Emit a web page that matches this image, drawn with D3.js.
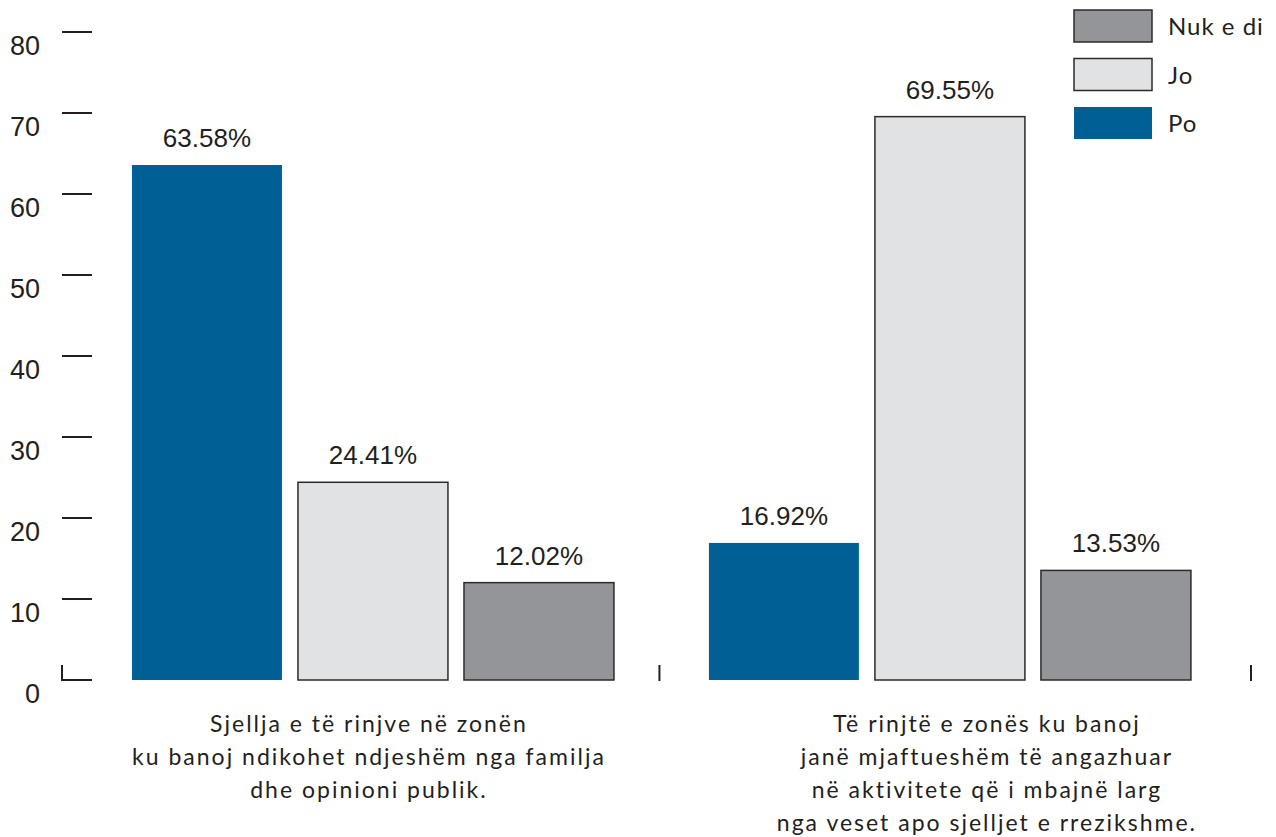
<!DOCTYPE html>
<html><head><meta charset="utf-8">
<script src="https://cdn.jsdelivr.net/npm/d3@7"></script>
<style>body{margin:0;background:#fff}</style>
</head><body>
<svg id="c" width="1276" height="837"></svg>
<script>
const categories = [
  ["Sjellja e të rinjve në zonën", "ku banoj ndikohet ndjeshëm nga familja", "dhe opinioni publik."],
  ["Të rinjtë e zonës ku banoj", "janë mjaftueshëm të angazhuar", "në aktivitete që i mbajnë larg", "nga veset apo sjelljet e rrezikshme."]
];
const seriesNames = ["Po", "Jo", "Nuk e di"];
const poValues = [63.58, 16.92];
const joValues = [24.41, 69.55];
const nukValues = [12.02, 13.53];
const yTicks = [0, 10, 20, 30, 40, 50, 60, 70, 80];
const colors = {"Po": "#006096", "Jo": "#e1e2e4", "Nuk e di": "#939598"};

const svg = d3.select("#c");
const numFont = "'Liberation Sans', Arial, sans-serif";
const txtFont = "Lato, 'Noto Sans', sans-serif";
const ink = "#231f20";
const labelShift = [-4, 37];

const y = d3.scaleLinear().domain([0, 80]).range([680, 32]);
const groupKeys = categories.map((c, i) => "g" + i);
const x0 = d3.scaleBand().domain(groupKeys).range([62, 1251]).paddingInner(0.1646).paddingOuter(0.1127).align(0.538);
const x1 = d3.scaleBand().domain(seriesNames).range([0, x0.bandwidth()]).paddingInner(0.0965);

const data = groupKeys.map((g, i) => ({g, vals: [
  {s: "Po", v: poValues[i]}, {s: "Jo", v: joValues[i]}, {s: "Nuk e di", v: nukValues[i]}
]}));

// y axis ticks
const ax = svg.append("g");
ax.selectAll("line.t").data(yTicks).join("line")
  .attr("x1", 62).attr("x2", 92)
  .attr("y1", d => y(d)).attr("y2", d => y(d))
  .attr("stroke", ink).attr("stroke-width", 2);
ax.selectAll("text").data(yTicks).join("text")
  .attr("x", 40).attr("y", d => y(d) + 23)
  .attr("text-anchor", "end")
  .style("font-family", numFont).style("font-size", "27px").attr("fill", ink)
  .text(d => d);
ax.append("line").attr("x1", 62).attr("x2", 62).attr("y1", 665).attr("y2", 681)
  .attr("stroke", ink).attr("stroke-width", 2);

// separator ticks
const seps = [(x0("g0") + x0.bandwidth() + x0("g1")) / 2 - 2, 1251];
svg.selectAll("line.sep").data(seps).join("line")
  .attr("x1", d => d).attr("x2", d => d).attr("y1", 665).attr("y2", 681)
  .attr("stroke", ink).attr("stroke-width", 2);

// bars
const gg = svg.selectAll("g.grp").data(data).join("g")
  .attr("transform", d => `translate(${x0(d.g)},0)`);
gg.selectAll("rect").data(d => d.vals).join("rect")
  .attr("x", d => x1(d.s)).attr("width", x1.bandwidth())
  .attr("y", d => y(d.v)).attr("height", d => y(0) - y(d.v))
  .attr("fill", d => colors[d.s])
  .attr("stroke", d => d.s === "Po" ? "none" : "#2b2b2b")
  .attr("stroke-width", 1.5);
gg.selectAll("text").data(d => d.vals).join("text")
  .attr("x", d => x1(d.s) + x1.bandwidth() / 2)
  .attr("y", d => y(d.v) - 18)
  .attr("text-anchor", "middle")
  .style("font-family", numFont).style("font-size", "26px").attr("fill", ink)
  .text(d => d.v.toFixed(2) + "%");

// category labels
data.forEach((d, i) => {
  const cx = x0(d.g) + x0.bandwidth() / 2 + labelShift[i];
  const t = svg.append("text").attr("text-anchor", "middle")
    .style("font-family", txtFont).style("font-size", "23px")
    .style("letter-spacing", "2px").attr("fill", ink);
  categories[i].forEach((line, k) => {
    t.append("tspan").attr("x", cx).attr("y", 732 + k * 33).text(line);
  });
});

// legend
const legendOrder = ["Nuk e di", "Jo", "Po"];
const lg = svg.selectAll("g.lg").data(legendOrder).join("g")
  .attr("transform", (d, i) => `translate(1074,${10 + i * 48.5})`);
lg.append("rect").attr("width", 78).attr("height", 32)
  .attr("fill", d => colors[d])
  .attr("stroke", d => d === "Po" ? "none" : "#2b2b2b").attr("stroke-width", 1.5);
lg.append("text").attr("x", 94).attr("y", 25)
  .style("font-family", txtFont).style("font-size", "24px")
  .style("letter-spacing", "1px").attr("fill", ink)
  .text(d => d);
</script>
</body></html>
